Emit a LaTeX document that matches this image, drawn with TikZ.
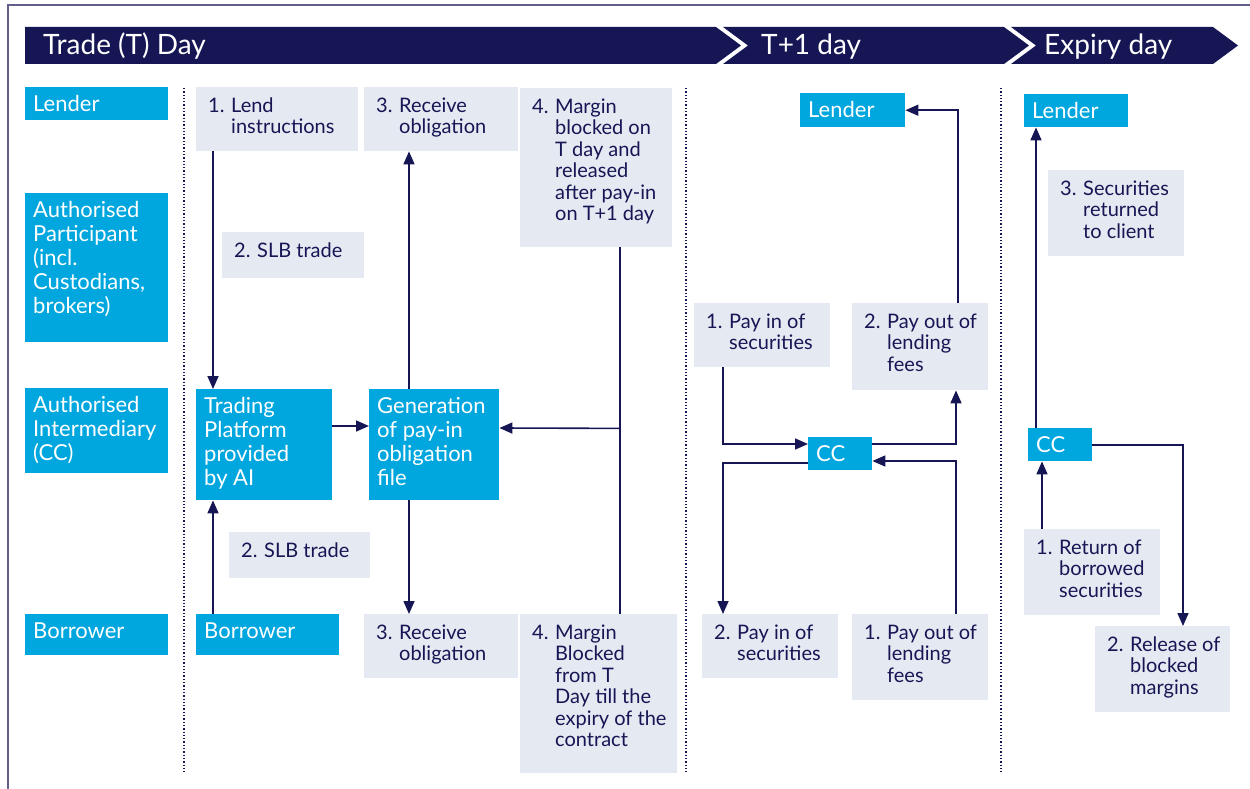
\documentclass[tikz,border=0pt]{standalone}
\usepackage{fontspec}
\setmainfont{Lato}
\usetikzlibrary{arrows.meta}
\definecolor{navy}{RGB}{22,22,84}
\definecolor{skyblue}{RGB}{0,166,222}
\definecolor{mist}{RGB}{228,233,242}
\definecolor{framegrey}{RGB}{96,96,138}

\begin{document}
\begin{tikzpicture}[
  x=1pt,
  y=-1pt,
  role/.style 2 args={
    fill=skyblue,
    text=white,
    font=\fontsize{22}{24}\selectfont,
    anchor=north west,
    inner sep=0pt,
    execute at begin node={\begin{minipage}[c][#2pt][t]{#1pt}\leftskip=8pt\rightskip=0pt plus 1fil\rule{0pt}{24pt}},
    execute at end node={\end{minipage}}
  },
  note/.style n args={3}{
    fill=mist,
    text=navy,
    font=\fontsize{20}{21.5}\selectfont,
    anchor=north west,
    inner sep=0pt,
    execute at begin node={\begin{minipage}[c][#2pt][t]{#1pt}\leftskip=12pt\rightskip=0pt plus 1fil
      \rule{0pt}{25pt}\hangindent=1.15em\hangafter=1\makebox[1.15em][l]{#3}},
    execute at end node={\end{minipage}}
  },
  day/.style={
    text=white,
    font=\fontsize{28}{30}\selectfont,
    anchor=base west,
    inner sep=0pt
  },
  flow/.style={draw=navy, line width=1.6pt, -{Triangle[length=13pt,width=11pt]}},
  link/.style={draw=navy, line width=1.6pt},
  lane/.style={navy, line width=1.3pt, dash pattern=on 1.3pt off 2pt}
  ]
  \useasboundingbox (0,0) rectangle (1250,789);
  \draw [framegrey, line width=2pt] (8,789) -- (8,5) -- (1250,5);

  \fill [navy] (25,27) -- (716,27) -- (741,45.5) -- (716,64) -- (25,64) -- cycle;
  \fill [navy] (723,27) -- (1004,27) -- (1029,45.5) -- (1004,64) -- (723,64) -- (748,45.5) -- cycle;
  \fill [navy] (1011,27) -- (1213,27) -- (1238,45.5) -- (1213,64) -- (1011,64) -- (1036,45.5) -- cycle;
  \node [day] (tday) at (43,55) {Trade (T) Day};
  \node [day] (t1day) at (761,55) {T+1 day};
  \node [day] (xday) at (1044,55) {Expiry day};

  \foreach \x in {184,686,1001}
    \draw [lane] (\x,88) -- (\x,772);

  \node [role={143}{33}] (lenderRole) at (25,87) {Lender};
  \node [role={143}{149}] (apRole) at (25,193) {Authorised\\Participant\\(incl.\\Custodians,\\brokers)};
  \node [role={143}{85}] (aiRole) at (25,388) {Authorised\\Intermediary\\(CC)};
  \node [role={143}{41}] (borrowerRole) at (25,614) {Borrower};

  \node [note={162}{64}{1.}] (lend) at (196,87) {Lend\newline instructions};
  \node [note={142}{46}{2.}] (slbTop) at (222,232) {SLB trade};
  \node [role={136}{111}] (tp) at (196,389) {Trading\\Platform\\provided\\by AI};
  \node [role={130}{111}] (gen) at (369,389) {Generation\\of pay-in\\obligation\\file};
  \node [note={141}{46}{2.}] (slbBot) at (229,532) {SLB trade};
  \node [role={143}{41}] (borT) at (196,614) {Borrower};
  \node [note={154}{64}{3.}] (recT) at (364,87) {Receive\newline obligation};
  \node [note={154}{64}{3.}] (recB) at (364,614) {Receive\newline obligation};
  \node [note={152}{159}{4.}] (marT) at (520,88) {Margin\newline blocked on\newline T day and\newline released\newline after pay-in\newline on T+1 day};
  \node [note={157}{159}{4.}] (marB) at (520,614) {Margin\newline Blocked\newline from T\newline Day till the\newline expiry of the\newline contract};

  \node [role={105}{34}] (l1) at (800,93) {Lender};
  \node [note={136}{64}{1.}] (pi1) at (694,303) {Pay in of\newline securities};
  \node [note={136}{87}{2.}] (po1) at (852,303) {Pay out of\newline lending\newline fees};
  \node [role={64}{33}] (cc1) at (808,437) {CC};
  \node [note={136}{64}{2.}] (pi2) at (702,614) {Pay in of\newline securities};
  \node [note={136}{86}{1.}] (po2) at (852,614) {Pay out of\newline lending\newline fees};

  \node [role={104}{33}] (l2) at (1024,94) {Lender};
  \node [note={136}{86}{3.}] (sec) at (1048,170) {Securities\newline returned\newline to client};
  \node [role={64}{33}] (cc2) at (1028,428) {CC};
  \node [note={136}{86}{1.}] (ret) at (1024,529) {Return of\newline borrowed\newline securities};
  \node [note={135}{86}{2.}] (rel) at (1095,626) {Release of\newline blocked\newline margins};

  \draw [flow] ([xshift=17pt]lend.south west) -- ([xshift=17pt]tp.north west);
  \draw [flow] ([xshift=17pt]borT.north west) -- ([xshift=17pt]tp.south west);
  \draw [flow] ([yshift=-37pt]tp.north east) -- ([yshift=-37pt]gen.north west);
  \draw [flow] ([xshift=40pt]gen.north west) -- ([xshift=45pt]recT.south west);
  \draw [flow] ([xshift=40pt]gen.south west) -- ([xshift=45pt]recB.north west);
  \draw [link] ([xshift=100pt]marT.south west) -- ([xshift=100pt]marB.north west);
  \draw [flow] ([xshift=100pt]marT.south west) ++(0,181) -- ([yshift=-39pt]gen.north east);

  \draw [flow] ([xshift=106pt]po1.north west) |- (l1.east);
  \draw [flow] ([xshift=29pt]pi1.south west) |- ([yshift=-7pt]cc1.north west);
  \draw [flow] ([yshift=-7pt]cc1.north east) -| ([xshift=104pt]po1.south west);
  \draw [flow] ([xshift=104pt]po2.north west) |- ([yshift=-24pt]cc1.north east);
  \draw [flow] ([yshift=-26pt]cc1.north west) -| ([xshift=21pt]pi2.north west);

  \draw [flow] ([xshift=8pt]cc2.north west) -- ([xshift=12pt]l2.south west);
  \draw [flow] ([xshift=18pt]ret.north west) -- ([xshift=14pt]cc2.south west);
  \draw [flow] (cc2.east) -| ([xshift=88pt]rel.north west);
\end{tikzpicture}
\end{document}
